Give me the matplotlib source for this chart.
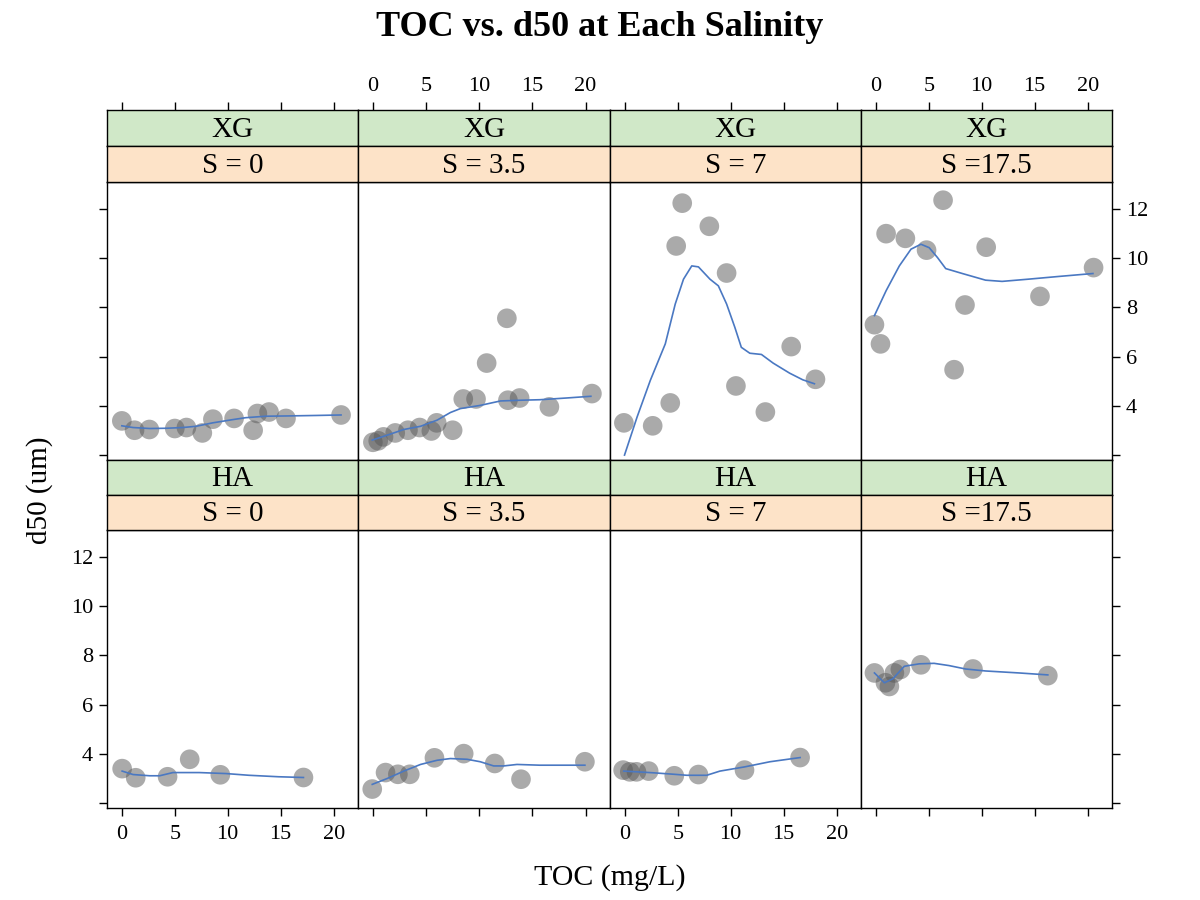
import matplotlib
matplotlib.use("Agg")
import matplotlib.pyplot as plt

plt.rcParams['font.family'] = ['Liberation Serif', 'DejaVu Serif']

# ---------------- data ----------------
polymers = ['XG', 'HA']
salinity_labels = ['S = 0', 'S = 3.5', 'S = 7', 'S =17.5']
x_ticks = [0, 5, 10, 15, 20]
y_ticks = [2, 4, 6, 8, 10, 12]
y_tick_labels = ['', '4', '6', '8', '10', '12']

# XG
xg_s0_toc = [0.0, 1.2, 2.6, 5.0, 6.1, 7.6, 8.6, 10.6, 12.4, 12.8, 13.9, 15.5, 20.7]
xg_s0_d50 = [3.39, 3.01, 3.04, 3.08, 3.12, 2.90, 3.46, 3.49, 3.01, 3.69, 3.75, 3.49, 3.63]
xg_s0_fit_toc = [0.0, 1.06, 2.63, 4.19, 5.76, 7.01, 8.58, 10.45, 11.7, 13.6, 15.5, 18.3, 20.7]
xg_s0_fit_d50 = [3.19, 3.12, 3.08, 3.09, 3.12, 3.17, 3.31, 3.44, 3.52, 3.58, 3.59, 3.61, 3.63]

xg_s35_toc = [0.0, 0.5, 1.0, 2.1, 3.3, 4.4, 5.5, 6.0, 7.5, 8.5, 9.7, 10.7, 12.6, 12.7, 13.8, 16.6, 20.6]
xg_s35_d50 = [2.52, 2.58, 2.74, 2.90, 3.01, 3.12, 2.98, 3.31, 3.01, 4.28, 4.28, 5.74, 7.56, 4.23, 4.32, 3.96, 4.50]
xg_s35_fit_toc = [-0.06, 1.35, 2.91, 4.48, 6.04, 7.29, 8.23, 10.1, 12.0, 13.9, 15.7, 18.2, 20.5]
xg_s35_fit_d50 = [2.61, 2.81, 3.04, 3.17, 3.42, 3.73, 3.89, 4.02, 4.20, 4.23, 4.25, 4.32, 4.39]

xg_s7_toc = [-0.09, 2.63, 4.29, 4.85, 5.42, 7.98, 9.61, 10.49, 13.27, 15.71, 18.0]
xg_s7_d50 = [3.31, 3.19, 4.12, 10.50, 12.24, 11.30, 9.40, 4.81, 3.75, 6.41, 5.08]
xg_s7_fit_toc = [-0.03, 1.16, 2.41, 3.82, 4.76, 5.54, 6.32, 6.95, 8.04, 8.83, 9.61,
                 10.39, 11.0, 11.8, 12.9, 14.0, 15.56, 16.8, 17.9]
xg_s7_fit_d50 = [2.00, 3.55, 5.04, 6.52, 8.14, 9.15, 9.69, 9.65, 9.15, 8.88, 8.14,
                 7.19, 6.38, 6.14, 6.09, 5.74, 5.33, 5.06, 4.90]

xg_s175_toc = [-0.13, 0.44, 0.97, 2.79, 4.79, 6.35, 7.39, 8.42, 10.42, 15.5, 20.56]
xg_s175_d50 = [7.30, 6.52, 11.0, 10.81, 10.33, 12.36, 5.47, 8.10, 10.45, 8.45, 9.62]
xg_s175_fit_toc = [-0.13, 0.97, 2.22, 3.32, 4.26, 5.04, 5.82, 6.6, 8.17, 10.36, 11.92, 14.4, 17.25, 20.5]
xg_s175_fit_d50 = [7.67, 8.68, 9.69, 10.37, 10.57, 10.43, 10.03, 9.58, 9.38, 9.11, 9.06, 9.15, 9.26, 9.38]

# HA
ha_s0_toc = [0.03, 1.31, 4.32, 6.41, 9.30, 17.15]
ha_s0_d50 = [3.40, 3.03, 3.07, 3.78, 3.15, 3.04]
ha_s0_fit_toc = [0.03, 1.06, 2.63, 3.57, 4.82, 7.32, 9.83, 12.0, 14.8, 17.15]
ha_s0_fit_d50 = [3.30, 3.16, 3.11, 3.11, 3.24, 3.24, 3.20, 3.13, 3.07, 3.04]

ha_s35_toc = [-0.06, 1.19, 2.35, 3.47, 5.79, 8.54, 11.46, 13.93, 19.94]
ha_s35_d50 = [2.57, 3.24, 3.17, 3.17, 3.84, 4.01, 3.61, 2.97, 3.68]
ha_s35_fit_toc = [-0.06, 1.35, 2.91, 4.48, 6.04, 7.29, 8.86, 10.1, 11.36, 12.3, 13.55, 15.7, 18.2, 19.94]
ha_s35_fit_d50 = [2.76, 3.0, 3.30, 3.57, 3.74, 3.81, 3.78, 3.68, 3.51, 3.51, 3.57, 3.54, 3.54, 3.54]

ha_s7_toc = [-0.16, 0.47, 1.1, 2.25, 4.67, 6.95, 11.3, 16.55]
ha_s7_d50 = [3.34, 3.27, 3.27, 3.30, 3.11, 3.16, 3.34, 3.85]
ha_s7_fit_toc = [-0.1, 1.16, 2.72, 4.67, 5.85, 7.73, 8.98, 11.3, 13.7, 16.55]
ha_s7_fit_d50 = [3.30, 3.27, 3.23, 3.17, 3.13, 3.13, 3.30, 3.47, 3.68, 3.85]

ha_s175_toc = [-0.13, 0.91, 1.28, 1.75, 2.32, 4.26, 9.17, 16.24]
ha_s175_d50 = [7.29, 6.89, 6.74, 7.29, 7.43, 7.62, 7.45, 7.18]
ha_s175_fit_toc = [-0.13, 0.81, 1.6, 2.69, 4.1, 5.5, 6.9, 8.48, 10.36, 13.5, 16.24]
ha_s175_fit_d50 = [7.29, 6.89, 7.05, 7.56, 7.66, 7.68, 7.59, 7.45, 7.37, 7.29, 7.21]

panels = {
    (0, 0): (xg_s0_toc, xg_s0_d50, xg_s0_fit_toc, xg_s0_fit_d50),
    (0, 1): (xg_s35_toc, xg_s35_d50, xg_s35_fit_toc, xg_s35_fit_d50),
    (0, 2): (xg_s7_toc, xg_s7_d50, xg_s7_fit_toc, xg_s7_fit_d50),
    (0, 3): (xg_s175_toc, xg_s175_d50, xg_s175_fit_toc, xg_s175_fit_d50),
    (1, 0): (ha_s0_toc, ha_s0_d50, ha_s0_fit_toc, ha_s0_fit_d50),
    (1, 1): (ha_s35_toc, ha_s35_d50, ha_s35_fit_toc, ha_s35_fit_d50),
    (1, 2): (ha_s7_toc, ha_s7_d50, ha_s7_fit_toc, ha_s7_fit_d50),
    (1, 3): (ha_s175_toc, ha_s175_d50, ha_s175_fit_toc, ha_s175_fit_d50),
}

# ---------------- layout ----------------
W, H = 1200, 900
fig = plt.figure(figsize=(12, 9), dpi=100)

def rect(left, top, right, bottom):
    return [left / W, 1 - bottom / H, (right - left) / W, (bottom - top) / H]

col_edges = [107, 358, 610, 861, 1112]
# (green top, green bottom/orange top, orange bottom/plot top, plot bottom)
row_edges = [(110, 146, 182, 460), (460, 495, 530, 808)]

XLIM = (-1.4, 22.3)
YLIM = (1.8, 13.1)
GREEN = '#d0e8c8'
ORANGE = '#fde3c8'
PT_COLOR = (0.34, 0.34, 0.34)
LINE_COLOR = '#4a78c2'
TICK_FS = 16
STRIP_FS = 21

for r in range(2):
    g_top, o_top, p_top, p_bot = row_edges[r]
    for c in range(4):
        x0, x1 = col_edges[c], col_edges[c + 1]
        toc, d50, ftoc, fd50 = panels[(r, c)]

        ax = fig.add_axes(rect(x0, p_top, x1, p_bot))
        ax.set_xlim(*XLIM)
        ax.set_ylim(*YLIM)
        ax.scatter(toc, d50, s=200, color=PT_COLOR, alpha=0.5, edgecolors='none', zorder=2)
        ax.plot(ftoc, fd50, color=LINE_COLOR, lw=1.2, zorder=3)
        for sp in ax.spines.values():
            sp.set_linewidth(1.0)
            sp.set_color('black')

        # y ticks: left on col 0, right on col 3
        ax.set_yticks(y_ticks)
        ax.tick_params(axis='y', direction='out', length=6, width=1,
                       left=(c == 0), right=(c == 3),
                       labelleft=(c == 0 and r == 1), labelright=(c == 3 and r == 0),
                       labelsize=TICK_FS, pad=4)
        ax.set_yticklabels(y_tick_labels)

        # x ticks: bottom row only at bottom
        ax.set_xticks(x_ticks)
        ax.tick_params(axis='x', direction='out', length=6, width=1,
                       bottom=(r == 1), top=False,
                       labelbottom=(r == 1 and c in (0, 2)), labeltop=False,
                       labelsize=TICK_FS, pad=6)

        # strips
        sg = fig.add_axes(rect(x0, g_top, x1, o_top))
        sg.set_facecolor(GREEN)
        sg.set_xlim(*XLIM)
        sg.set_ylim(0, 1)
        sg.set_yticks([])
        sg.text(0.5, 0.45, polymers[r], transform=sg.transAxes, ha='center',
                va='center', fontsize=STRIP_FS)
        if r == 0:
            sg.set_xticks(x_ticks)
            sg.tick_params(axis='x', direction='out', length=6, width=1,
                           bottom=False, top=True, labelbottom=False,
                           labeltop=(c in (1, 3)), labelsize=TICK_FS, pad=4)
        else:
            sg.set_xticks([])
        so = fig.add_axes(rect(x0, o_top, x1, p_top))
        so.set_facecolor(ORANGE)
        so.set_xticks([])
        so.set_yticks([])
        so.text(0.5, 0.45, salinity_labels[c], transform=so.transAxes, ha='center',
                va='center', fontsize=STRIP_FS)
        for s in (sg, so):
            for sp in s.spines.values():
                sp.set_linewidth(1.0)
                sp.set_color('black')

fig.text(600 / W, 1 - 28 / H, 'TOC vs. d50 at Each Salinity', ha='center', va='center',
         fontsize=26, fontweight='bold')
fig.text(610 / W, 1 - 878 / H, 'TOC (mg/L)', ha='center', va='center', fontsize=21.5)
fig.text(40 / W, 1 - 490 / H, 'd50 (um)', ha='center', va='center', fontsize=21,
         rotation=90)

fig.savefig('out.png', dpi=100, facecolor='white')
